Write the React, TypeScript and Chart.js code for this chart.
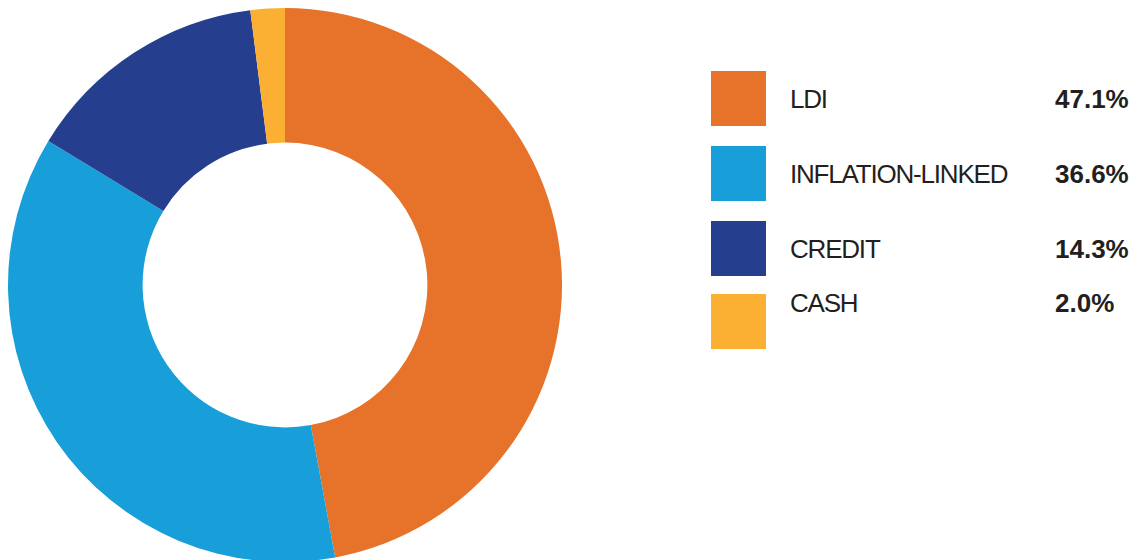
import React, { useEffect, useRef } from "react";
import { Chart, registerables } from "chart.js";

Chart.register(...registerables);

const categories = ["LDI", "INFLATION-LINKED", "CREDIT", "CASH"];
const values = [47.1, 36.6, 14.3, 2.0];
const valueLabels = ["47.1%", "36.6%", "14.3%", "2.0%"];
const colors = ["#E77229", "#189FDA", "#253F8E", "#FBB034"];

// layout (legend rows): box tops and text baselines
const boxTops = [71, 146, 221, 294];
const textBaselines = [108, 183, 258, 312];

export default function App() {
  const ref = useRef<HTMLCanvasElement | null>(null);

  useEffect(() => {
    document.body.style.margin = "0";
    document.documentElement.style.overflow = "hidden";
    const canvas = ref.current;
    if (!canvas) return;
    const chart = new Chart(canvas, {
      type: "doughnut",
      data: {
        labels: categories,
        datasets: [
          {
            data: values,
            backgroundColor: colors,
            borderWidth: 0,
            hoverOffset: 0,
          },
        ],
      },
      options: {
        responsive: false,
        maintainAspectRatio: false,
        animation: false,
        cutout: "51.4%",
        layout: { padding: 0 },
        plugins: {
          legend: { display: false },
          tooltip: { enabled: false },
        },
      },
    });
    return () => chart.destroy();
  }, []);

  const font = '"Liberation Sans", Arial, Helvetica, sans-serif';

  return (
    <div
      style={{
        position: "relative",
        width: 1136,
        height: 560,
        overflow: "hidden",
        background: "#ffffff",
        fontFamily: font,
      }}
    >
      <canvas
        ref={ref}
        width={554}
        height={554}
        style={{ position: "absolute", left: 8, top: 8, width: 554, height: 554 }}
      />
      {categories.map((c, i) => (
        <React.Fragment key={c}>
          <div
            style={{
              position: "absolute",
              left: 711,
              top: boxTops[i],
              width: 55,
              height: 55,
              background: colors[i],
            }}
          />
          <div
            style={{
              position: "absolute",
              left: 790,
              top: textBaselines[i] - 24,
              height: 30,
              lineHeight: "30px",
              fontSize: 26,
              letterSpacing: "-1.2px",
              color: "#231f20",
              whiteSpace: "nowrap",
            }}
          >
            {c}
          </div>
          <div
            style={{
              position: "absolute",
              left: 1055,
              top: textBaselines[i] - 24,
              height: 30,
              lineHeight: "30px",
              fontSize: 26,
              fontWeight: "bold",
              color: "#231f20",
              whiteSpace: "nowrap",
            }}
          >
            {valueLabels[i]}
          </div>
        </React.Fragment>
      ))}
    </div>
  );
}
